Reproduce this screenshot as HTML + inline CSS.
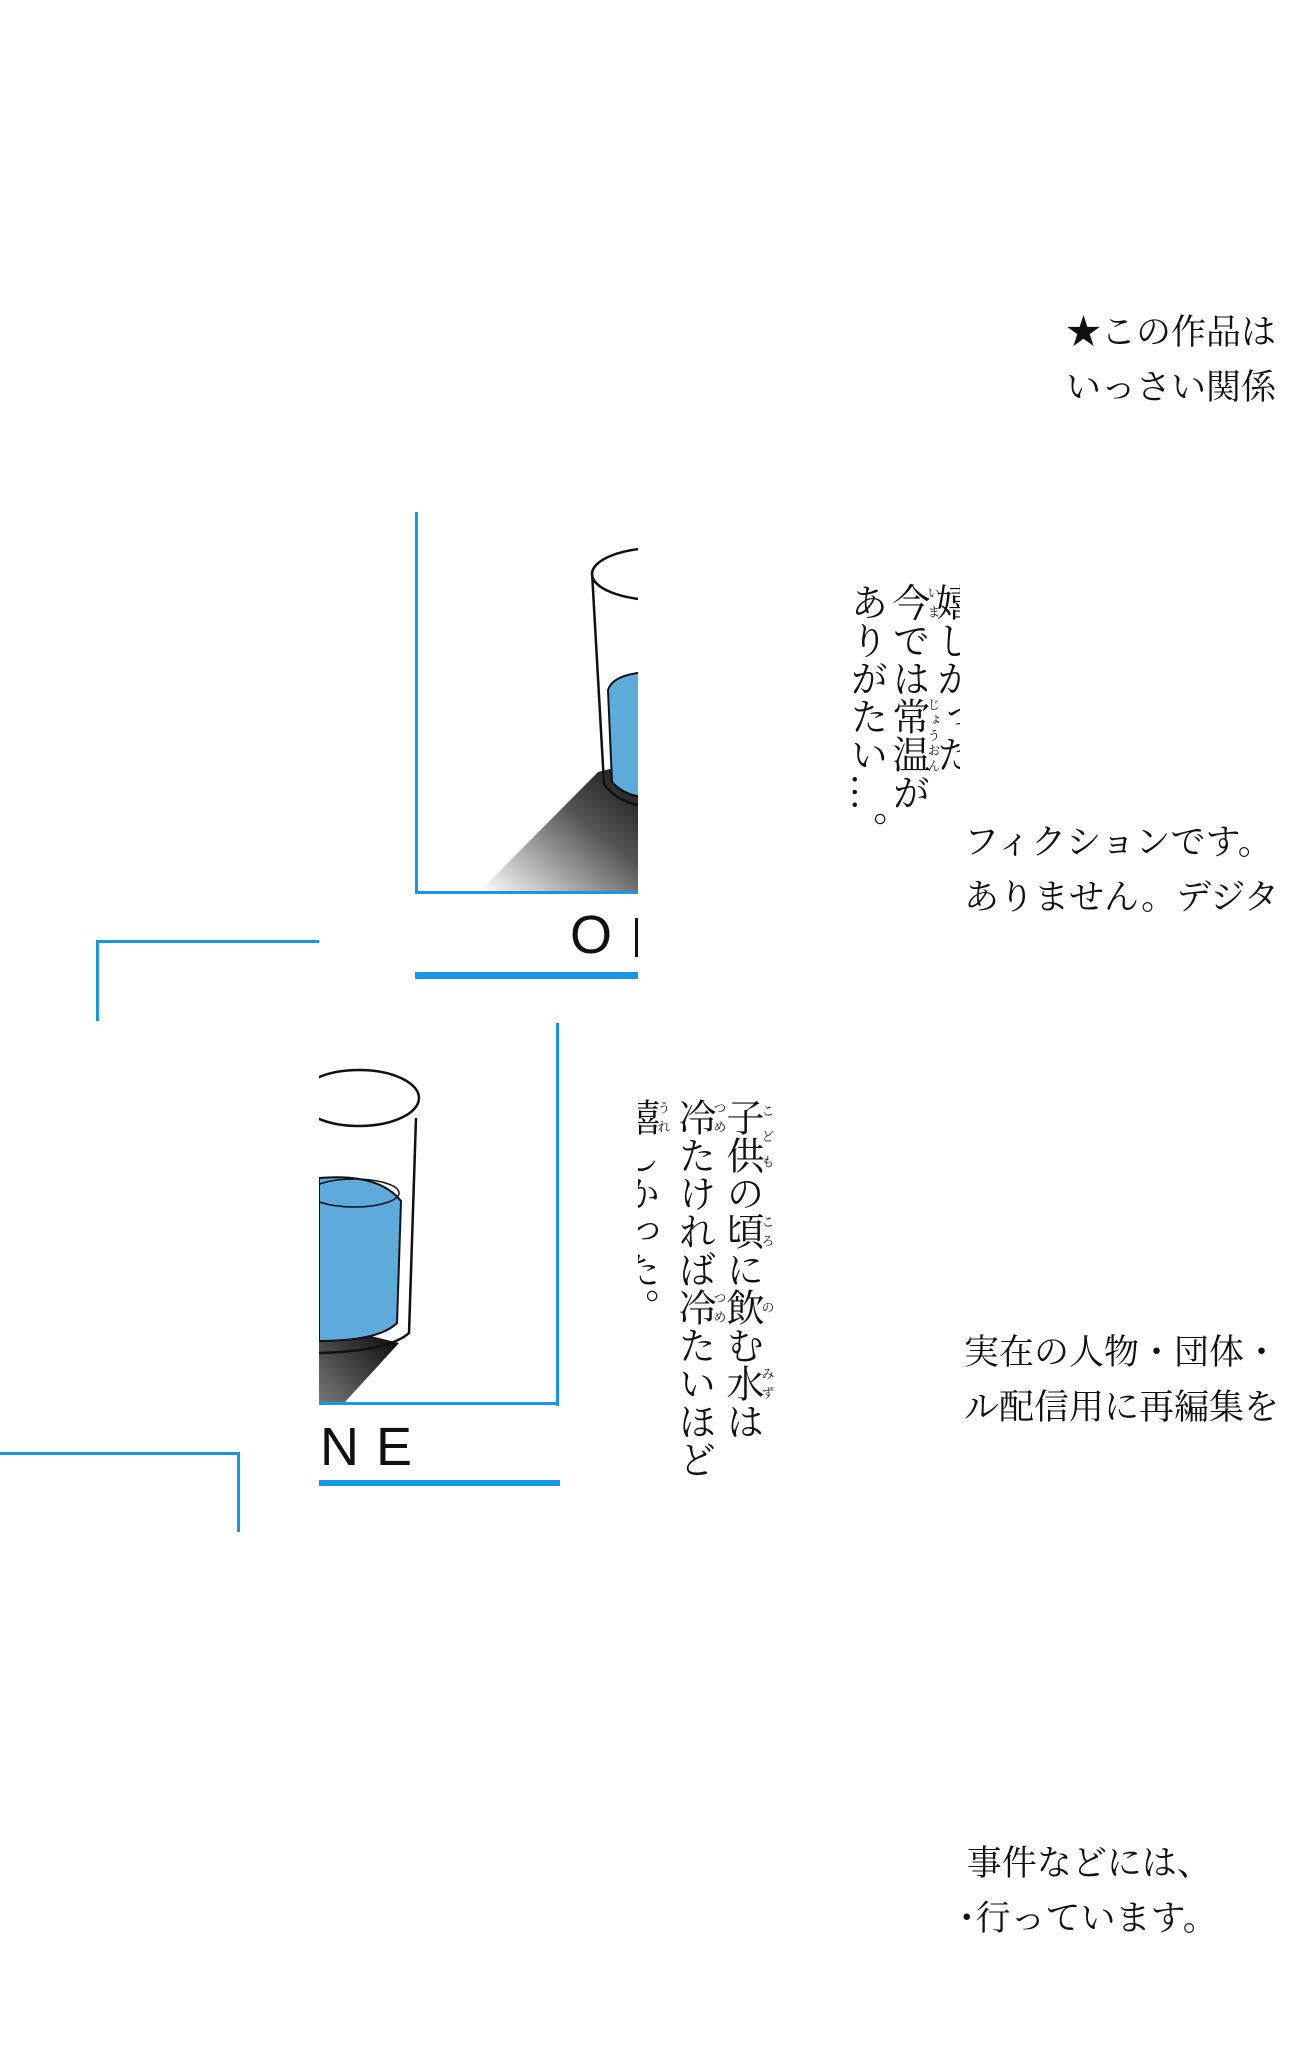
<!DOCTYPE html>
<html><head><meta charset="utf-8"><style>
html,body{margin:0;padding:0;background:#fff;}
body{width:1303px;height:2048px;position:relative;overflow:hidden;}
.a{position:absolute;}
.b{position:absolute;background:#1a96e8;}
.v{position:absolute;writing-mode:vertical-rl;font-family:"Liberation Serif","Noto Serif CJK JP",serif;font-size:38px;line-height:46px;color:#111;white-space:nowrap;}
.h{position:absolute;font-family:"Liberation Serif","Noto Serif CJK JP",serif;font-size:35px;line-height:55px;color:#111;white-space:nowrap;overflow:hidden;}
.clip{position:absolute;overflow:hidden;}
rt{font-size:13px;}
.lbl{position:absolute;font-family:"Liberation Sans",sans-serif;font-size:54px;line-height:60px;color:#111;}
</style></head><body>

<!-- top panel -->
<div class="b" style="left:415px;top:512px;width:3px;height:382px"></div>
<div class="b" style="left:415px;top:891px;width:223px;height:3px"></div>
<div class="clip" style="left:418px;top:512px;width:220px;height:379px">
<svg width="220" height="379" viewBox="0 0 220 379">
<defs><linearGradient id="s1" x1="0" y1="1" x2="1" y2="0"><stop offset="0" stop-color="#fff"/><stop offset="0.6" stop-color="#555"/><stop offset="1" stop-color="#111"/></linearGradient></defs>
<polygon points="62,379 220,379 220,250 180,260" fill="url(#s1)"/>
<path d="M174,60 L186,272 Q200,292 230,294" fill="none" stroke="#111" stroke-width="2.5"/>
<ellipse cx="240" cy="62" rx="66" ry="26" fill="none" stroke="#111" stroke-width="2.5"/>
<path d="M190,178 L194,270 Q208,285 230,285 L230,160 Q195,162 190,178Z" fill="#5eaadb" stroke="#111" stroke-width="2"/>
</svg></div>
<div class="lbl" style="left:570px;top:905px">O</div>
<div class="a" style="left:635px;top:918px;width:3px;height:39px;background:#111"></div>
<div class="b" style="left:415px;top:972px;width:223px;height:7px"></div>

<!-- left bracket -->
<div class="b" style="left:96px;top:940px;width:223px;height:3px"></div>
<div class="b" style="left:96px;top:940px;width:3px;height:81px"></div>

<!-- second panel -->
<div class="b" style="left:556px;top:1023px;width:3px;height:383px"></div>
<div class="b" style="left:319px;top:1402px;width:240px;height:3px"></div>
<div class="clip" style="left:319px;top:1023px;width:237px;height:379px">
<svg width="237" height="379" viewBox="0 0 237 379">
<defs><linearGradient id="s2" x1="0" y1="1" x2="1" y2="0"><stop offset="0" stop-color="#777"/><stop offset="1" stop-color="#000"/></linearGradient></defs>
<polygon points="0,300 0,379 26,379 80,320" fill="url(#s2)"/>
<path d="M97,95 L90,310 Q70,328 0,330" fill="none" stroke="#111" stroke-width="2.5"/>
<ellipse cx="40" cy="75" rx="60" ry="28" fill="none" stroke="#111" stroke-width="2.5"/>
<path d="M0,155 Q60,150 82,178 L78,300 Q60,318 0,318Z" fill="#5eaadb" stroke="#111" stroke-width="2"/>
<ellipse cx="35" cy="170" rx="45" ry="14" fill="none" stroke="#111" stroke-width="1.5"/>
</svg></div>
<div class="lbl" style="left:320px;top:1417px">N</div>
<div class="lbl" style="left:376px;top:1417px">E</div>
<div class="b" style="left:319px;top:1480px;width:241px;height:6px"></div>

<!-- lower bracket -->
<div class="b" style="left:0px;top:1452px;width:240px;height:3px"></div>
<div class="b" style="left:237px;top:1452px;width:3px;height:80px"></div>

<!-- vertical text block 1 -->
<div class="clip" style="left:820px;top:575px;width:140px;height:300px">
<div class="v" style="left:108px;top:8px">嬉しかった</div>
<div class="v" style="left:64px;top:8px"><ruby>今<rt>いま</rt></ruby>では<ruby>常温<rt>じょうおん</rt></ruby>が</div>
<div class="v" style="left:22px;top:8px">ありがたい…。</div>
</div>

<!-- vertical text block 2 -->
<div class="clip" style="left:638px;top:1090px;width:140px;height:420px">
<div class="v" style="left:80px;top:8px"><ruby>子供<rt>こども</rt></ruby>の<ruby>頃<rt>ころ</rt></ruby>に<ruby>飲<rt>の</rt></ruby>む<ruby>水<rt>みず</rt></ruby>は</div>
<div class="v" style="left:32px;top:8px"><ruby>冷<rt>つめ</rt></ruby>たければ<ruby>冷<rt>つめ</rt></ruby>たいほど</div>
<div class="v" style="left:-24px;top:8px"><ruby>嬉<rt>うれ</rt></ruby>しかった。</div>
</div>

<!-- horizontal text strips -->
<div class="h" style="left:1066px;top:305px;width:211px;height:110px">★この作品は<br>いっさい関係</div>
<div class="h" style="left:964px;top:815px;width:313px;height:110px">フィクションです。<br>ありません。デジタ</div>
<div class="h" style="left:964px;top:1325px;width:313px;height:110px">実在の人物・団体・<br>ル配信用に再編集を</div>
<div class="h" style="left:958px;top:1836px;width:250px;height:110px">&nbsp;事件などには、<br>･行っています。</div>

</body></html>
